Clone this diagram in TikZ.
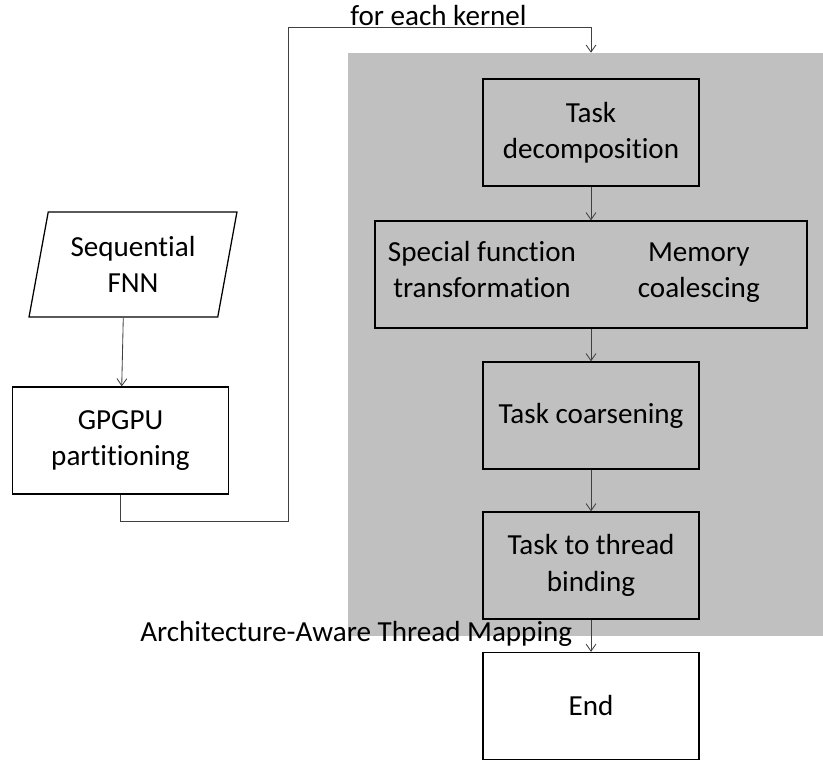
\documentclass[tikz,border=0pt]{standalone}
\usepackage{fontspec}
\setmainfont[Ligatures={NoCommon}]{Carlito}
\usetikzlibrary{positioning, arrows.meta, shapes.geometric}
\definecolor{mapgray}{RGB}{192,192,192}

\begin{document}
\begin{tikzpicture}[>={Straight Barb[length=5pt,width=7pt]},
		font=\fontsize{20.7}{25.8}\selectfont,
		box/.style={draw, line width=0.9pt, align=center, minimum width=5.4cm, minimum height=2.675cm, inner sep=2pt},
		flow/.style={->, line width=0.6pt, black!75}]
	\useasboundingbox (0,0) rectangle (20.575,19);

	% --- Architecture-Aware Thread Mapping ---
	\node[fill=mapgray, minimum width=11.875cm, minimum height=14.575cm, inner sep=0pt] (map) at (14.6375,10.3875) {};
	\node[box] (decomp) at (14.775,15.69) {Task\\decomposition};
	\node[box, minimum width=10.8cm] (opt) at (14.775,12.1375) {};
	\node[align=center] (special) at (12.05,12.2) {\strut Special function\\\strut transformation};
	\node[align=center] (memory) at (17.47,12.2) {\strut Memory\\\strut coalescing};
	\node[box] (coarse) at (14.775,8.6125) {Task coarsening};
	\node[box] (bind) at (14.775,4.8625) {Task to thread\\binding};
	\node[box, fill=white] (end) at (14.775,1.35) {End};
	\node[anchor=base west, inner sep=0pt] (maplabel) at (3.5,2.95) {Architecture-Aware Thread Mapping};

	% --- Eingabe ---
	\node[box, trapezium, trapezium left angle=76.6, trapezium right angle=103.4, trapezium stretches=true,
		minimum width=5.2cm, minimum height=2.625cm] (seq) at (3.325,12.3875) {Sequential\\FNN};
	\node[box] (gp) at (3.0125,7.9875) {GPGPU\\partitioning};

	% --- Verbindungen ---
	\coordinate (loopA) at (7.2,5.975);
	\coordinate (loopB) at (14.775,18.325);
	\node[anchor=base west, inner sep=0pt] (kernel) at (8.75,18.36) {for each kernel};
	\draw[flow] (seq.bottom side) -- (gp);
	\draw[flow] (gp.south) |- (loopA) |- (loopB) -- (loopB |- map.north);
	\draw[flow] (decomp) -- (opt);
	\draw[flow] (opt) -- (coarse);
	\draw[flow] (coarse) -- (bind);
	\draw[flow] (bind) -- (end);
\end{tikzpicture}
\end{document}
